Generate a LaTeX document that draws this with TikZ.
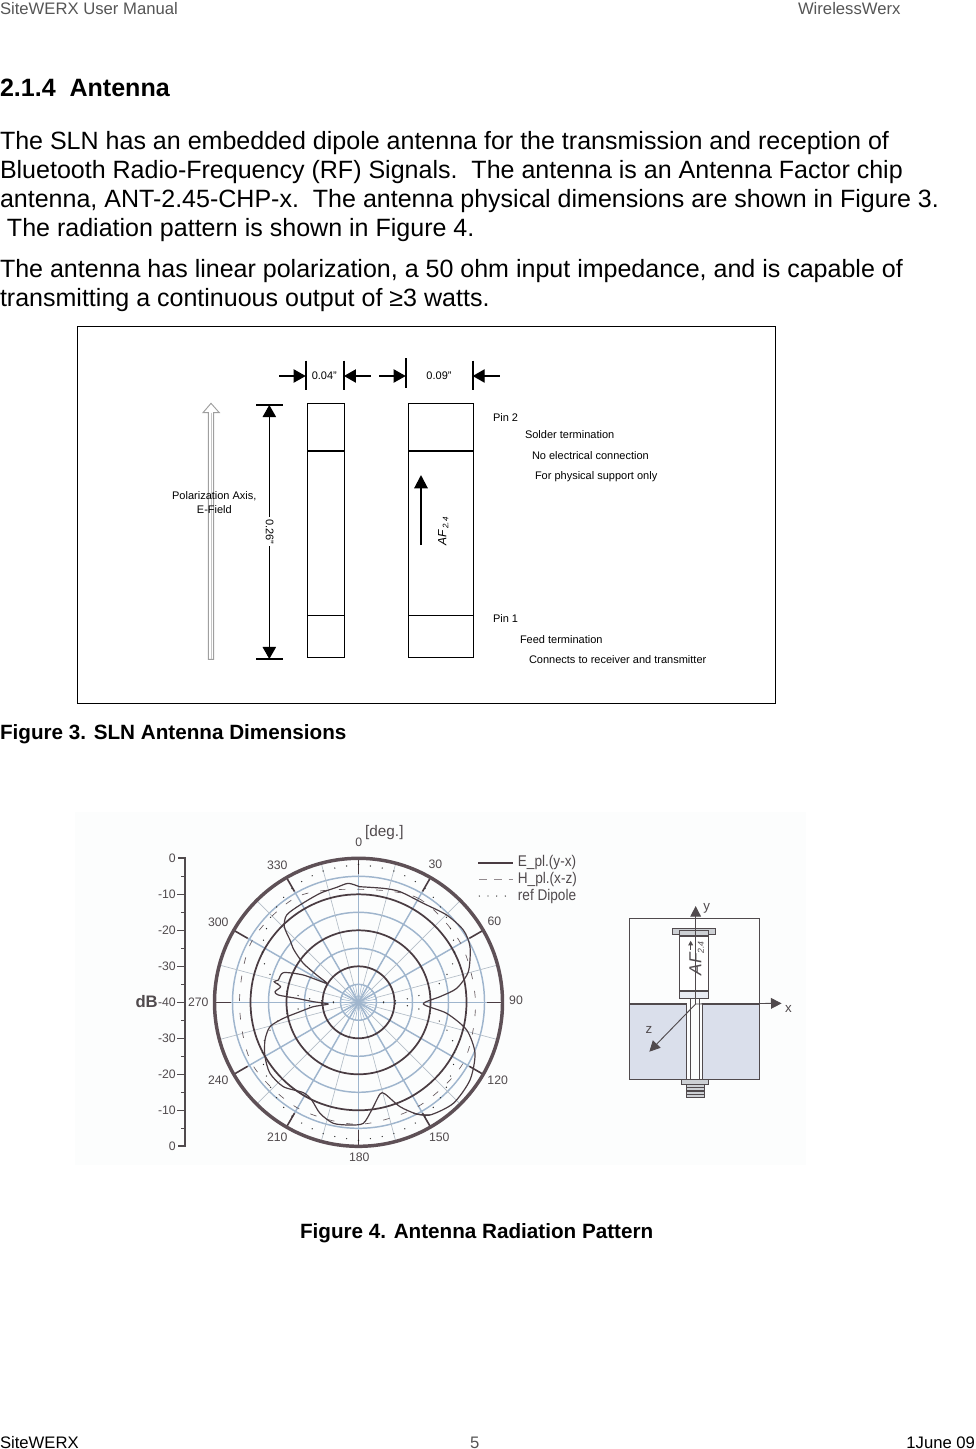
\documentclass[tikz,border=0pt]{standalone}
\usepackage{fontspec}
\setmainfont{Liberation Sans}
\usetikzlibrary{arrows.meta}
\definecolor{hdr}{HTML}{555555}
\definecolor{ringd}{HTML}{4A3C42}
\definecolor{ringo}{HTML}{5E5056}
\definecolor{ringb}{HTML}{9FB5CD}
\definecolor{spoke}{HTML}{B4BEC8}
\definecolor{pale}{HTML}{FCFDFD}
\definecolor{gtxt}{HTML}{504A4D}
\definecolor{fillb}{HTML}{DADFEB}
\definecolor{fillg}{HTML}{CDD0D4}
\tikzset{
 txt/.style={anchor=base west,inner sep=0pt,outer sep=0pt,font=\fontsize{18.77}{23}\selectfont},
 headtxt/.style={txt,text=hdr,font=\fontsize{12.5}{14}\selectfont},
 foottxt/.style={txt,font=\fontsize{12.5}{14}\selectfont},
 captxt/.style={txt,font=\fontsize{15.5}{18}\selectfont\bfseries},
 smalltxt/.style={inner sep=0pt,outer sep=0pt,font=\fontsize{8.25}{10.5}\selectfont},
 smallw/.style={smalltxt,anchor=base west},
 blk/.style={draw=black,line width=0.9pt,fill=none},
 dimtip/.style={-{Triangle[length=9pt,width=10pt]},line width=0.9pt},
 plab/.style={inner sep=0pt,text=gtxt,font=\fontsize{9.2}{11}\selectfont},
 legtxt/.style={inner sep=0pt,anchor=west,text=gtxt,xscale=0.88,font=\fontsize{11.6}{13}\selectfont},
 axisg/.style={draw=gtxt,line width=0.7pt,-{Triangle[length=8pt,width=8pt]}},
 dipole/.style={black!85,line width=1.05pt,line cap=round,dash pattern=on 0pt off 9pt},
}
\begin{document}
\begin{tikzpicture}[x=0.75pt,y=-0.75pt]
\useasboundingbox (0,0) rectangle (975,1449);
% --- page text
\node[headtxt] (h1) at (0,14) {SiteWERX User Manual};
\node[headtxt] (h2) at (798,14) {WirelessWerx};
\node[txt,font=\fontsize{18.8}{23}\selectfont\bfseries] (sec) at (0,96) {2.1.4\hspace{0.55em}Antenna};
\node[txt] (l1) at (0,149) {The SLN has an embedded dipole antenna for the transmission and reception of};
\node[txt] (l2) at (0,178) {Bluetooth Radio-Frequency (RF) Signals.\ \ The antenna is an Antenna Factor chip};
\node[txt] (l3) at (0,207) {antenna, ANT-2.45-CHP-x.\ \ The antenna physical dimensions are shown in Figure 3.};
\node[txt] (l4) at (7,236) {The radiation pattern is shown in Figure 4.};
\node[txt] (l5) at (0,277) {The antenna has linear polarization, a 50 ohm input impedance, and is capable of};
\node[txt] (l6) at (0,306) {transmitting a continuous output of ≥3 watts.};
\node[captxt] (c3) at (0,739) {Figure 3. SLN Antenna Dimensions};
\node[captxt] (c4) at (300,1238) {Figure 4. Antenna Radiation Pattern};
\node[foottxt] (f1) at (0,1448) {SiteWERX};
\node[foottxt,text=hdr] (f2) at (470,1448) {5};
\node[foottxt,anchor=base east] (f3) at (975,1448) {1June 09};
% --- Figure 3
\draw[line width=0.8pt] (77.5,326.5) rectangle (775.5,703.5);
\begin{scope}[shift={(140,340)},scale=0.33333]
 % hollow arrow
 \draw[draw=gray!75,line width=0.7pt,fill=white] (205,958) -- (221,958) -- (221,218) -- (238,218) -- (213,190) -- (189,218) -- (205,218) -- cycle;
 \draw[draw=gray!45,line width=0.7pt] (213,218) -- (213,958);
 % blocks
 \draw[blk] (502,190) rectangle (613,952);
 \draw[blk] (805,190) rectangle (1000,952);
 \draw[line width=1.5pt] (502,332) -- (613,332) (805,332) -- (1000,332);
 \draw[line width=0.9pt] (502,826) -- (613,826) (805,826) -- (1000,826);
 % dimension ticks
 \draw[line width=1.5pt] (497,62) -- (497,150) (612,62) -- (612,150) (797,55) -- (797,143) (998,62) -- (998,150);
 \draw[line width=1.5pt] (348,195) -- (428,195) (348,957) -- (428,957);
 \coordinate (a1) at (418,108); \coordinate (a2) at (692,108); \coordinate (a3) at (718,108); \coordinate (a4) at (1080,108);
 \coordinate (b1) at (497,108); \coordinate (b2) at (612,108); \coordinate (b3) at (797,108); \coordinate (b4) at (998,108);
 \draw[dimtip] (a1) -- (b1);
 \draw[dimtip] (a2) -- (b2);
 \draw[dimtip] (a3) -- (b3);
 \draw[dimtip] (a4) -- (b4);
 \coordinate (v1) at (388,195); \coordinate (v2) at (388,957);
 \draw[{Triangle[length=9pt,width=10pt]}-{Triangle[length=9pt,width=10pt]},line width=0.8pt] (v1) -- (v2);
 \node[smalltxt,fill=white,inner sep=1.5pt,rotate=-90] (d26) at (389,575) {0.26"};
 \node[smalltxt] (d04) at (553,108) {0.04"};
 \node[smalltxt] (d09) at (897,108) {0.09"};
 \node[smalltxt,align=center] (pol) at (223,488) {Polarization Axis,\\E-Field};
 \draw[line width=1.5pt,-{Triangle[length=10pt,width=10pt]}] (843,615) -- (843,405);
 \node[smalltxt,rotate=90,font=\fontsize{9}{11}\selectfont\itshape] (af) at (910,575) {AF\,\raisebox{-1.5pt}{\fontsize{6}{7}\selectfont 2.4}};
\end{scope}
\node[smallw] (p2) at (493,421) {Pin 2};
\node[smallw] (t1) at (525,438) {Solder termination};
\node[smallw] (t2) at (532,459) {No electrical connection};
\node[smallw] (t3) at (535,479) {For physical support only};
\node[smallw] (p1) at (493,622) {Pin 1};
\node[smallw] (t4) at (520,643) {Feed termination};
\node[smallw] (t5) at (529,663) {Connects to receiver and transmitter};
% --- Figure 4 backdrop
\fill[pale] (75,812) rectangle (806,1165);
% --- polar plot
\begin{scope}[shift={(358.5,1002.3)},y=0.75pt]
 \foreach \r in {18,54,90,126} \draw[ringb,line width=1.1pt] (0,0) circle[radius=\r];
 \foreach \a in {15,45,...,345} \draw[spoke,line width=0.5pt] (\a:18) -- (\a:144);
 \foreach \a in {0,10,...,350} \draw[ringb,line width=0.4pt] (0,0) -- (\a:18);
 \foreach \a in {0,30,...,330} {
   \draw[ringb,line width=1.1pt] (0,0) -- (\a:128);
   \draw[ringd,line width=1.2pt] (\a:128) -- (\a:144);
 }
 \foreach \r in {36,72,108} \draw[ringd,line width=1.3pt] (0,0) circle[radius=\r];
 \draw[ringo,line width=2.6pt] (0,0) circle[radius=144];
 % reference dipole
 \draw[dipole] plot[smooth] coordinates {(90:138)(75:136)(60:132)(45:123)(30:111)(20:98)(10:76)(5:54)(2:35)(0:18)};
 \draw[dipole] plot[smooth] coordinates {(90:138)(105:136)(120:132)(135:123)(150:111)(160:98)(170:76)(175:54)(178:35)(180:18)};
 \draw[dipole] plot[smooth] coordinates {(270:138)(255:136)(240:132)(225:123)(210:111)(200:98)(190:76)(185:54)(182:35)(180:18)};
 \draw[dipole] plot[smooth] coordinates {(270:138)(285:136)(300:132)(315:123)(330:111)(340:98)(350:76)(355:54)(358:35)(360:18)};
 % H plane
 \draw[ringd!85,line width=0.5pt,dash pattern=on 5pt off 9pt]
  plot[smooth cycle] coordinates {(90:113)(60:120)(30:118)(0:117)(-30:121)(-60:120)(-90:122)(-120:122)(-150:123)(180:119)(150:123)(120:122)};
\end{scope}
% E plane
\begin{scope}[shift={(70,810)},scale=0.33333]
 \draw[ringd,line width=0.9pt,line join=round] plot[smooth,tension=0.45] coordinates {
  (868,230)(835,220)(800,232)(750,250)(690,285)(650,315)(643,350)(660,390)(672,420)(700,460)(740,495)(770,520)
  (700,495)(640,488)(625,510)(612,515)(632,530)(615,545)(625,555)(680,565)(730,575)(775,582)
  (730,590)(690,605)(640,625)(600,650)(585,690)(585,740)(600,790)(640,830)(700,848)(725,870)(750,910)(790,940)(840,945)(880,940)(905,900)(930,852)(945,852)(990,890)(1040,912)(1080,915)};
\end{scope}
\begin{scope}[shift={(340,840)},scale=0.33333]
 \draw[ringd,line width=0.9pt,line join=round] plot[smooth,tension=0.45] coordinates {
  (220,820)(270,825)(340,790)(390,720)(405,640)(380,570)(320,520)(250,492)(300,470)(350,445)(385,395)(390,320)(370,270)(320,225)(250,190)(180,155)(130,145)(57,140)};
\end{scope}
% --- labels and dB scale
\begin{scope}[shift={(70,810)},scale=0.33333]
 \node[plab] (a0) at (866,97) {0};
 \node[plab,font=\fontsize{11.5}{13}\selectfont] (deg) at (943,68) {[deg.]};
 \node[plab] (a330) at (622,165) {330};
 \node[plab] (a30) at (1096,163) {30};
 \node[plab] (a300) at (445,338) {300};
 \node[plab] (a270) at (385,576) {270};
 \node[plab] (a240) at (445,812) {240};
 \node[plab] (a210) at (622,983) {210};
 \node[plab] (a180) at (868,1043) {180};
 \node[plab] (a150) at (1108,982) {150};
 \draw[gtxt,line width=1.3pt] (325,145) -- (345,145) -- (345,1008) -- (325,1008);
 \foreach \y in {199,307,415,523,631,739,847,955} \draw[gtxt,line width=0.7pt] (333,\y) -- (345,\y);
 \foreach \y in {253,361,469,577,685,793,901} \draw[gtxt,line width=1pt] (322,\y) -- (345,\y);
 \node[plab,anchor=east] (s0) at (318,144) {0};
 \node[plab,anchor=east] (s1) at (318,252) {-10};
 \node[plab,anchor=east] (s2) at (318,360) {-20};
 \node[plab,anchor=east] (s3) at (318,469) {-30};
 \node[plab,anchor=east] (s4) at (318,577) {-40};
 \node[plab,anchor=east] (s5) at (318,685) {-30};
 \node[plab,anchor=east] (s6) at (318,793) {-20};
 \node[plab,anchor=east] (s7) at (318,901) {-10};
 \node[plab,anchor=east] (s8) at (318,1008) {0};
 \node[plab,anchor=east,font=\fontsize{12.5}{14}\selectfont\bfseries] (db) at (264,575) {dB};
\end{scope}
% --- right side
\begin{scope}[shift={(440,810)},scale=0.33333]
 \node[plab] (a60) at (163,335) {60};
 \node[plab] (a90) at (228,572) {90};
 \node[plab] (a120) at (173,810) {120};
 % legend
 \draw[ringd,line width=1.6pt] (115,158) -- (220,158);
 \draw[ringd!60,line width=0.4pt,dash pattern=on 6pt off 5pt] (118,208) -- (220,208);
 \draw[black!85,line width=1pt,line cap=round,dash pattern=on 0pt off 6.5pt] (118,258) -- (220,258);
 \node[legtxt] (le) at (233,158) {E\_pl.(y-x)};
 \node[legtxt] (lh) at (233,208) {H\_pl.(x-z)};
 \node[legtxt] (lr) at (233,258) {ref Dipole};
 % antenna sketch
 \fill[fillb] (568,582) rectangle (740,808) (788,582) rectangle (957,808);
 \draw[gtxt,line width=0.6pt] (568,325) rectangle (957,808);
 \draw[gtxt,line width=0.8pt] (568,582) -- (740,582) -- (740,808) (957,582) -- (788,582) -- (788,808);
 \draw[gtxt,line width=0.5pt] (750,565) -- (750,808) (778,565) -- (778,808);
 \draw[gtxt,line width=1pt] (568,808) -- (957,808);
 \draw[gtxt,line width=0.6pt,fill=fillg] (698,355) rectangle (825,373);
 \draw[gtxt,line width=0.6pt,fill=fillg] (718,362) rectangle (806,378);
 \draw[gtxt,line width=0.6pt,fill=white] (718,378) rectangle (806,565);
 \draw[gtxt,line width=1.2pt] (718,378) -- (806,378) (718,543) -- (806,543);
 \fill[fillb!60] (719,545) rectangle (805,564);
 \draw[gtxt,line width=0.6pt,fill=fillg] (723,808) rectangle (805,823);
 \draw[gtxt,line width=0.5pt,fill=fillg] (738,823) rectangle (792,863);
 \foreach \y in {833,843,853} \draw[gtxt,line width=0.9pt] (738,\y) -- (792,\y);
 \draw[gtxt,line width=0.8pt,-{Triangle[length=3.5pt,width=3.5pt]}] (752,420) -- (752,392);
 \node[plab,rotate=90,font=\fontsize{13}{14}\selectfont\itshape] (afs) at (770,445) {AF\raisebox{-2pt}{\fontsize{6.5}{7}\selectfont 2.4}};
 \coordinate (o) at (767,582);
 \coordinate (oy) at (767,288);
 \coordinate (ox) at (1025,580);
 \coordinate (oz) at (628,725);
 \draw[axisg] (o) -- (oy);
 \draw[axisg] (o) -- (ox);
 \draw[axisg] (o) -- (oz);
 \node[plab,font=\fontsize{10}{12}\selectfont] (ly) at (800,296) {y};
 \node[plab,font=\fontsize{10}{12}\selectfont] (lx) at (1045,596) {x};
 \node[plab,font=\fontsize{10}{12}\selectfont] (lz) at (627,660) {z};
\end{scope}
\end{tikzpicture}
\end{document}
